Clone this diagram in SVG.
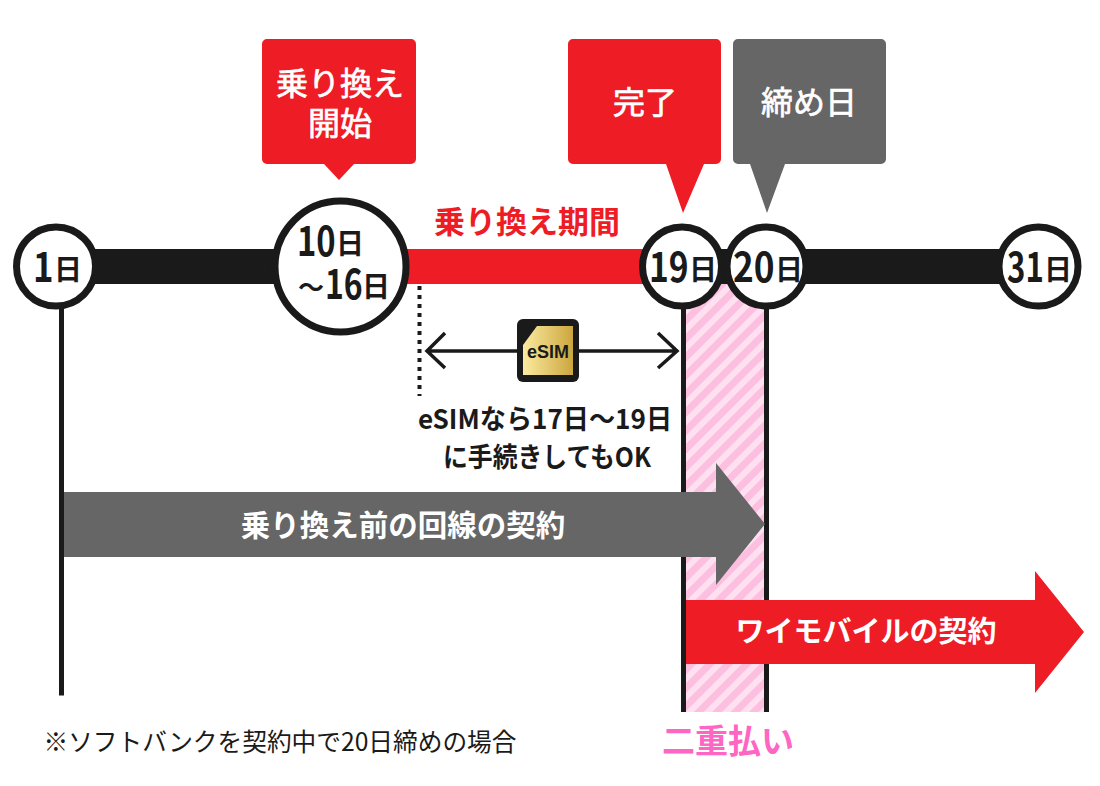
<svg xmlns="http://www.w3.org/2000/svg" width="1100" height="786" viewBox="0 0 1100 786">
<style>
text{font-family:"Noto Sans CJK JP","Noto Sans",sans-serif;font-weight:700;text-anchor:middle}
.w{fill:#fff}.m{font-weight:400;stroke:#fff;stroke-width:.7}.k{fill:#1a1a1a}.red{fill:#ee1c25}.gray{fill:#666}
.c{fill:#fff;stroke:#1a1a1a;stroke-width:7}
.v{stroke:#1a1a1a;stroke-width:5;fill:none}
.n,.d{text-anchor:start}
.n{font-size:41px}.d{font-size:28px}
</style>
<defs>
<pattern id="st" width="13" height="13" patternUnits="userSpaceOnUse" patternTransform="rotate(45)"><rect width="13" height="13" fill="#fdbfe0"/><rect width="6" height="13" fill="#fee0f1"/></pattern>
<linearGradient id="gold" x1="0" x2="1" y1="0" y2="0"><stop offset="0" stop-color="#fbeba0"/><stop offset="1" stop-color="#cca63e"/></linearGradient>
</defs>
<g id="connectors">
<rect x="686" y="284" width="78" height="428" fill="url(#st)"/>
<path class="v" d="M61.500 300V695.500M683.500 300V712M766.500 300V712"/>
<rect class="k" x="60" y="249" width="980" height="35"/>
<rect class="red" x="400" y="249" width="250" height="35"/>
<path d="M419.500 286V396" stroke="#1a1a1a" stroke-width="4" stroke-dasharray="4 5" fill="none"/>
<path d="M427 351H677M445 333L427 351L445 368M658 333L677 351L658 368" stroke="#1a1a1a" stroke-width="3.500" fill="none"/>
</g>
<g id="sim">
<rect class="k" x="517" y="319" width="62" height="63" rx="6"/>
<path d="M537 326H573V375H523V345Z" fill="url(#gold)"/>
<text x="548" y="358" font-size="18" class="k" style="font-family:'Liberation Sans',sans-serif">eSIM</text>
</g>
<g id="callout-start">
<path class="red" d="M267 39H411a5 5 0 0 1 5 5V159a5 5 0 0 1-5 5H354L339 180L324 164H267a5 5 0 0 1-5-5V44a5 5 0 0 1 5-5Z"/>
<text class="w m" font-size="32"><tspan x="340" y="95">乗り換え</tspan><tspan x="340" y="135">開始</tspan></text>
</g>
<g id="callout-done">
<path class="red" d="M573 39H716a5 5 0 0 1 5 5V159a5 5 0 0 1-5 5H704L683 213L666 164H573a5 5 0 0 1-5-5V44a5 5 0 0 1 5-5Z"/>
<text class="w m" x="645" y="114" font-size="32">完了</text>
</g>
<g id="callout-close">
<path class="gray" d="M738 39H881a5 5 0 0 1 5 5V159a5 5 0 0 1-5 5H785L767 213L750 164H738a5 5 0 0 1-5-5V44a5 5 0 0 1 5-5Z"/>
<text class="w m" x="809" y="114" font-size="32">締め日</text>
</g>
<text class="red" x="527" y="233" font-size="31">乗り換え期間</text>
<g id="day1"><circle class="c" cx="56" cy="266.500" r="39.500"/><text class="k n" transform="translate(33 282) scale(.85 1)">1</text><text class="k d" x="54" y="280">日</text></g>
<g id="day10"><circle class="c" cx="340.500" cy="266.500" r="65.500"/><text class="k n" transform="translate(297 256) scale(.8 1)">10</text><text class="k d" x="336" y="254">日</text><text class="k" x="311" y="297" font-size="26">〜</text><text class="k n" transform="translate(325 299) scale(.78 1)">16</text><text class="k d" x="362" y="297">日</text></g>
<g id="day19"><circle class="c" cx="682" cy="266.500" r="39.500"/><text class="k n" transform="translate(649 282) scale(.82 1)">19</text><text class="k d" x="689" y="280">日</text></g>
<g id="day20"><circle class="c" cx="766.500" cy="266.500" r="39.500"/><text class="k n" transform="translate(733 282) scale(.86 1)">20</text><text class="k d" x="775" y="280">日</text></g>
<g id="day31"><circle class="c" cx="1038.500" cy="266.500" r="39.500"/><text class="k n" transform="translate(1007 282) scale(.76 1)">31</text><text class="k d" x="1044" y="280">日</text></g>
<text class="k" font-size="27"><tspan x="418" y="429" text-anchor="start" textLength="254" lengthAdjust="spacingAndGlyphs">eSIMなら17日〜19日</tspan><tspan x="443" y="467" text-anchor="start" textLength="208" lengthAdjust="spacingAndGlyphs">に手続きしてもOK</tspan></text>
<g id="old-contract"><path class="gray" d="M64 492H716V463L765 524L716 585V557H64Z"/><text class="w" x="403" y="536" font-size="29.500">乗り換え前の回線の契約</text></g>
<g id="new-contract"><path class="red" d="M686 600H1035V571L1084 632L1035 693V664H686Z"/><text class="w" x="866" y="642" font-size="29">ワイモバイルの契約</text></g>
<text x="280" y="751" font-size="25" fill="#1a1a1a" style="font-weight:400" textLength="473" lengthAdjust="spacingAndGlyphs">※ソフトバンクを契約中で20日締めの場合</text>
<text x="728" y="753" font-size="33" fill="#ff66c4">二重払い</text>
</svg>
